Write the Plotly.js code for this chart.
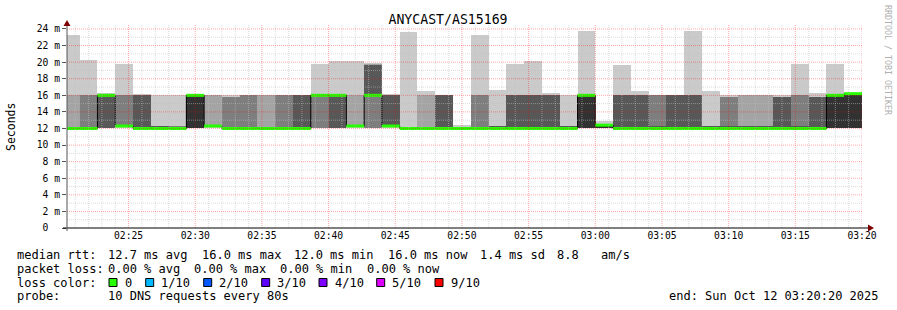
<!DOCTYPE html>
<html><head><meta charset="utf-8">
<script src="https://cdn.plot.ly/plotly-3.0.1.min.js"></script>
<style>html,body{margin:0;padding:0;background:#fff}#chart{width:897px;height:310px}</style>
</head><body><div id="chart"></div>
<script>
// ---------------- data ----------------
const chartTitle = 'ANYCAST/AS15169';
const firstIntervalEnd = Date.UTC(2025, 9, 12, 2, 21, 20);
const stepSeconds = 80;
const rangeStart = Date.UTC(2025, 9, 12, 2, 20, 23);
const rangeEnd = Date.UTC(2025, 9, 12, 3, 20, 0);

// 10 sorted ping times (ms) per 80 s interval
const pings = [
  [12,12,12,12,12,12,12,12,16,23.3],
  [12,12,12,12,12,12,12,16,16,20.3],
  [12,12,12,12,16,16,16,16,16,16.3],
  [12,12.3,12.3,12.3,12.3,12.3,12.3,16,16,19.8],
  [12,12,12,12,12,12,16,16,16,16.2],
  [12,12,12,12,12,12,12.3,12.3,12.3,16],
  [12,12,12,12,12,12,12.2,12.3,12.3,16],
  [12,12,12,12,12,16,16,16,16,16],
  [12,12.3,12.3,12.3,12.3,12.3,12.3,12.3,16,16],
  [12,12,12,12,12,12,12,15.8,15.8,16],
  [12,12,12,12,12,12,12,16,16,16],
  [12,12,12,12,12,12,12.2,12.2,16,16],
  [12,12,12,12,12,12,12,16,16,16],
  [12,12,12,12,12,12,16,16,16,16],
  [12,12,12,16,16,16,16,16,16,19.8],
  [12,12,12,12,16,16,16,16,16,20.1],
  [12,12.3,12.3,12.3,12.3,12.3,12.3,12.3,16,20.1],
  [12,12,12,16,16,16,19.6,19.6,19.8,19.9],
  [12,12.3,12.3,12.3,12.3,12.3,16,16,16,16.2],
  [12,12,12,12,12,12,12,12,12,23.6],
  [12,12,12,12,12,12,12.2,12.2,16,16.5],
  [12,12,12,12,12,12,16,16,16,16],
  [12,12,12,12,12,12,12,12,12.2,12.4],
  [12,12,12,12,12,12,12,16,16,23.3],
  [12,12,12,12,12,12,12.3,12.3,12.3,16.6],
  [12,12,12,12,12,12,16,16,16,19.8],
  [12,12,12,12,12,12,16,16,16,20.1],
  [12,12,12,12,12,12,16,16,16,16.3],
  [12,12,12,12,12,12,12.3,12.3,12.3,16],
  [12,12,12,12,12,16,16,16,16,23.7],
  [12,12,12,12,12,12.4,12.4,12.4,12.6,12.9],
  [12,12,12,12,12,12,16,16,16,19.6],
  [12,12,12,12,12,12,16,16,16,16.5],
  [12,12,12,12,12,12,12.3,16,16,16],
  [12,12,12,12,12,12,16,16,16,16],
  [12,12,12,12,12,12,16,16,16,23.7],
  [12,12,12,12,12,12,12.3,12.3,12.3,16.5],
  [12,12,12,12,12,12,12.3,15.8,15.8,16],
  [12,12,12,12,12,12,12.3,12.3,16,16],
  [12,12,12,12,12,12,12.3,12.3,16,16],
  [12,12,12,12,12,12,15.8,15.8,15.8,16],
  [12,12,12,12,12,12,12.3,16,16,19.8],
  [12,12,12,12,12,12,15.8,15.8,15.8,16.3],
  [12,12,12,12,12,16,16,16,16,19.8],
  [12,12,12,12,12,16.2,16.2,16.2,16.2,16.3]
];
const median = [12,12,16,12.3,12,12,12,16,12.3,12,
                12,12,12,12,16,16,12.3,16,12.3,12,
                12,12,12,12,12,12,12,12,12,16,
                12.4,12,12,12,12,12,12,12,12,12,
                12,12,12,16,16.2];
const lossCount = [0,0,0,0,0,0,0,0,0,0, 0,0,0,0,0,0,0,0,0,0,
                   0,0,0,0,0,0,0,0,0,0, 0,0,0,0,0,0,0,0,0,0, 0,0,0,0,0];

const lossColors = ['#26ff00','#00b8ff','#0059ff','#5e00ff','#7e00ff','#dd00ff','#ff0000'];
const lossLabels = ['0','1/10','2/10','3/10','4/10','5/10','9/10'];
const smokeShades = ['#cacaca','#a4a4a4','#7e7e7e','#585858','#323232'];

const yTickVals = [0,2,4,6,8,10,12,14,16,18,20,22,24];
const yTickText = ['0\u00a0\u00a0','2 m','4 m','6 m','8 m','10 m','12 m','14 m','16 m','18 m','20 m','22 m','24 m'];

const rttLegend = ['median rtt:', '12.7 ms avg', '16.0 ms max', '12.0 ms min', '16.0 ms now', '1.4 ms sd', '8.8', 'am/s'];
const lossLegend = ['packet loss:', '0.00 % avg', '0.00 % max', '0.00 % min', '0.00 % now'];
const colorLegendTitle = 'loss color:';
const probeLegend = ['probe:', '10 DNS requests every 80s'];
const endText = 'end: Sun Oct 12 03:20:20 2025';
const yAxisTitle = 'Seconds';
const watermark = 'RRDTOOL / TOBI OETIKER';

// ---------------- geometry helpers ----------------
const PL = 67, PR = 862, PT = 25, PB = 228, W = 897, H = 310;
const X = px => (px - PL) / (PR - PL);
const Y = py => (PB - py) / (PB - PT);
const MONO = 'DejaVu Sans Mono';

// ---------------- traces ----------------
const n = pings.length;
const centers = [], starts = [];
for (let i = 0; i < n; i++) {
  const end = firstIntervalEnd + i * stepSeconds * 1000;
  centers.push(end - stepSeconds * 500);
  starts.push(end - stepSeconds * 1000);
}
const barW = stepSeconds * 1000;
const traces = [];
for (let j = 0; j < 5; j++) {
  traces.push({
    type: 'bar', x: centers, width: Array(n).fill(barW),
    base: pings.map(p => p[j]),
    y: pings.map(p => p[9 - j] - p[j]),
    marker: {color: smokeShades[j], line: {width: 0}},
    hoverinfo: 'skip', showlegend: false
  });
}
// median step line (dark)
traces.push({
  type: 'scatter', mode: 'lines',
  x: starts.concat([starts[n - 1] + barW]),
  y: median.concat([median[n - 1]]),
  line: {shape: 'hv', color: '#000000', width: 1},
  hoverinfo: 'skip', showlegend: false
});
// loss-coloured median segments, one trace per loss colour
const byColor = {};
for (let i = 0; i < n; i++) {
  const c = lossColors[Math.min(lossCount[i], 6)];
  if (!byColor[c]) byColor[c] = {x: [], y: []};
  byColor[c].x.push(starts[i], starts[i] + barW, null);
  byColor[c].y.push(median[i], median[i], null);
}
Object.keys(byColor).forEach(c => {
  traces.push({type: 'scatter', mode: 'lines', x: byColor[c].x, y: byColor[c].y,
    line: {color: c, width: 3}, connectgaps: false, hoverinfo: 'skip', showlegend: false});
});

// ---------------- grid & axes as shapes (drawn above, like rrdtool) ----------------
const shapes = [];
const minorCol = 'rgba(192,192,192,0.55)';
const majorCol = 'rgba(255,0,0,0.35)';
for (let t = Date.UTC(2025, 9, 12, 2, 21); t <= rangeEnd; t += 60000) {
  const major = (Math.round(t / 60000) % 5) === 0;
  shapes.push({type: 'line', xref: 'x', yref: 'paper', x0: t, x1: t, y0: 0, y1: 1,
    line: {color: major ? majorCol : minorCol, width: 1, dash: '1px,1px'}, layer: 'above'});
}
for (let v = 1; v <= 24; v++) {
  shapes.push({type: 'line', xref: 'paper', yref: 'y', x0: 0, x1: 1, y0: v, y1: v,
    line: {color: (v % 2 === 0) ? majorCol : minorCol, width: 1, dash: '1px,1px'}, layer: 'above'});
}
// axis lines
shapes.push({type: 'line', xref: 'paper', yref: 'paper', x0: X(63), x1: X(870), y0: 0, y1: 0,
  line: {color: '#000', width: 1}, layer: 'above'});
shapes.push({type: 'line', xref: 'paper', yref: 'paper', x0: 0, x1: 0, y0: Y(231), y1: Y(22),
  line: {color: '#555', width: 1}, layer: 'above'});
// arrows
shapes.push({type: 'path', xref: 'paper', yref: 'paper', layer: 'above',
  path: `M ${X(868)} ${Y(224.5)} L ${X(874)} ${Y(228)} L ${X(868)} ${Y(231.5)} Z`,
  fillcolor: '#7f0000', line: {width: 0}});
shapes.push({type: 'path', xref: 'paper', yref: 'paper', layer: 'above',
  path: `M ${X(63.5)} ${Y(26)} L ${X(67)} ${Y(20)} L ${X(70.5)} ${Y(26)} Z`,
  fillcolor: '#7f0000', line: {width: 0}});

// ---------------- annotations ----------------
const ann = [];
ann.push({text: yAxisTitle, xref: 'paper', yref: 'paper', x: X(11), y: Y(127), textangle: -90,
  showarrow: false, font: {family: MONO, size: 11.5, color: '#000'}, xanchor: 'center', yanchor: 'middle'});
ann.push({text: watermark, xref: 'paper', yref: 'paper', x: X(888), y: Y(60), textangle: 90,
  showarrow: false, font: {family: MONO, size: 8.3, color: '#b0b0b0'}, xanchor: 'center', yanchor: 'middle'});

const lineY = [255, 268.5, 282.5, 296];
function addText(s, px, py, anchor) {
  ann.push({text: s.replace(/ /g, '\u00a0'), xref: 'paper', yref: 'paper', x: X(px), y: Y(py),
    showarrow: false, xanchor: anchor || 'left', yanchor: 'middle',
    font: {family: MONO, size: 12, color: '#000'}});
}
const rttX = [15, 106.3, 200, 292.3, 385.7, 478.3, 555, 599];
rttLegend.forEach((s, i) => addText(s, rttX[i], lineY[0]));
const lossX = [15, 106.3, 192.3, 278.3, 364.7];
lossLegend.forEach((s, i) => addText(s, lossX[i], lineY[1]));
addText(colorLegendTitle, 15, lineY[2]);
const probeX = [15, 106.3];
probeLegend.forEach((s, i) => addText(s, probeX[i], lineY[3]));
addText(endText, 881, lineY[3], 'right');

const boxX = [109, 145.7, 203.7, 261.7, 319, 376.7, 435];
lossLabels.forEach((lab, i) => {
  shapes.push({type: 'rect', xref: 'paper', yref: 'paper', x0: X(boxX[i]), x1: X(boxX[i] + 8),
    y0: Y(286.5), y1: Y(278.5), fillcolor: lossColors[i], line: {color: '#000', width: 1}});
  addText(lab, boxX[i] + 13.5, lineY[2]);
});

// ---------------- layout ----------------
const layout = {
  width: W, height: H,
  margin: {l: PL, r: W - PR, t: PT, b: H - PB, pad: 0},
  paper_bgcolor: '#ffffff', plot_bgcolor: '#ffffff',
  barmode: 'overlay', bargap: 0,
  title: {text: chartTitle, x: 448 / W, xref: 'container', xanchor: 'center',
    y: 1 - 19.5 / H, yref: 'container', yanchor: 'middle',
    font: {family: MONO, size: 13.2, color: '#000'}},
  xaxis: {type: 'date', range: [rangeStart, rangeEnd], tickformat: '%H:%M',
    tick0: Date.UTC(2025, 9, 12, 2, 25), dtick: 300000,
    showgrid: false, zeroline: false, showline: false, ticks: '',
    tickfont: {family: MONO, size: 9.7, color: '#000'}, fixedrange: true},
  yaxis: {range: [0, 24.48], tickvals: yTickVals, ticktext: yTickText,
    showgrid: false, zeroline: false, showline: false, ticks: 'outside', ticklen: 4,
    tickcolor: '#555', tickwidth: 1,
    tickfont: {family: MONO, size: 9.7, color: '#000'}, fixedrange: true},
  shapes: shapes, annotations: ann, showlegend: false
};
Plotly.newPlot('chart', traces, layout, {displayModeBar: false, staticPlot: true});
</script></body></html>
